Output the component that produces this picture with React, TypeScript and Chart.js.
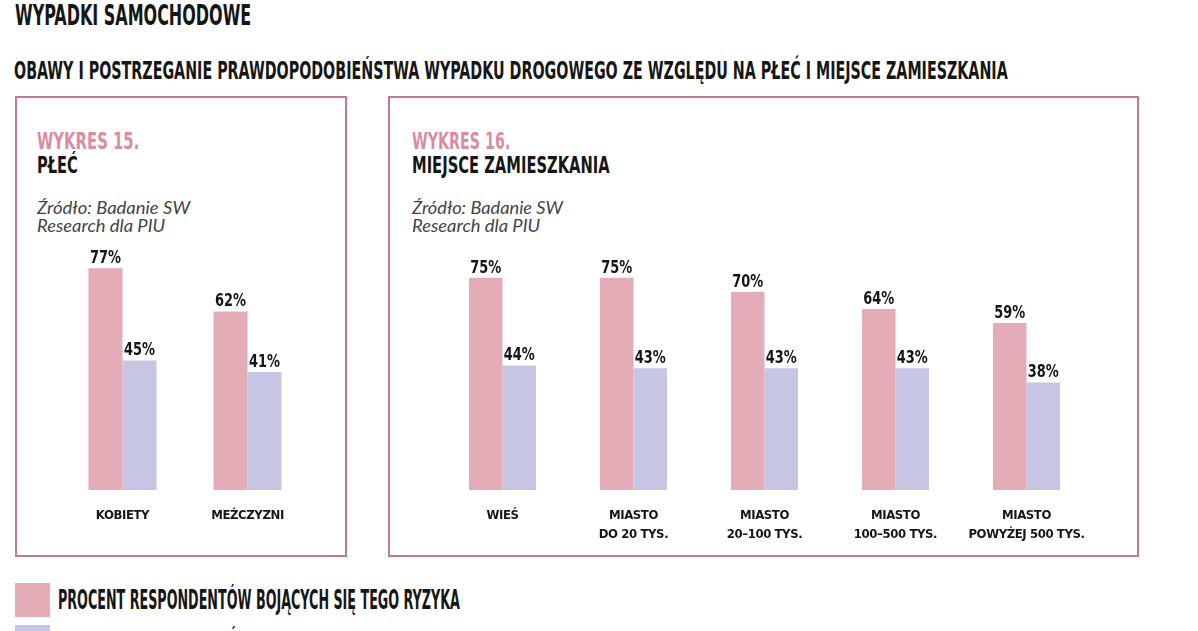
import React, { useEffect, useLayoutEffect, useRef } from 'react';
import { Chart, registerables } from 'chart.js';

Chart.register(...registerables);

const NARROW = '"Liberation Sans Narrow", "DejaVu Sans Condensed", "Liberation Sans", sans-serif';
const SOURCE_FONT = 'Lato, "Open Sans", "DejaVu Sans", sans-serif';

// ---- data ----
const genderCategories = ['KOBIETY', 'MEŻCZYZNI'];
const genderFear = [77, 62];
const genderProbability = [45, 41];

const placeCategories = [
  ['WIEŚ'],
  ['MIASTO', 'DO 20 TYS.'],
  ['MIASTO', '20–100 TYS.'],
  ['MIASTO', '100–500 TYS.'],
  ['MIASTO', 'POWYŻEJ 500 TYS.'],
];
const placeFear = [75, 75, 70, 64, 59];
const placeProbability = [44, 43, 43, 43, 38];

const seriesNames = [
  'PROCENT RESPONDENTÓW BOJĄCYCH SIĘ TEGO RYZYKA',
  'PROCENT RESPONDENTÓW OCENIAJĄCYCH TO RYZYKO JAKO PRAWDOPODOBNE',
];

const FEAR_COLOR = '#e3acb6';
const PROB_COLOR = '#c6c5e3';
const BOX_COLOR = '#c17b90';
const PINK_TEXT = '#d98ea0';
const DARK = '#161616';

type FitProps = {
  text: string;
  left: number;
  capTop: number;
  capHeight: number;
  width: number;
  color?: string;
  weight?: string | number;
  italic?: boolean;
  family?: string;
  capRatio?: number;
  topRatio?: number;
};

function FitText({
  text,
  left,
  capTop,
  capHeight,
  width,
  color = DARK,
  weight = 'bold',
  italic = false,
  family = NARROW,
  capRatio = 0.72,
  topRatio = 0.12,
}: FitProps) {
  const ref = useRef<HTMLSpanElement>(null);
  const fontSize = capHeight / capRatio;
  const top = capTop - topRatio * fontSize;
  useLayoutEffect(() => {
    const fit = () => {
      const el = ref.current;
      if (!el) return;
      const w = el.offsetWidth;
      if (w > 0) el.style.transform = `scaleX(${width / w})`;
    };
    fit();
    if ((document as any).fonts && (document as any).fonts.ready) {
      (document as any).fonts.ready.then(fit);
    }
  }, [text, width]);
  return (
    <span
      ref={ref}
      style={{
        position: 'absolute',
        left,
        top,
        fontSize,
        lineHeight: 1,
        fontFamily: family,
        fontWeight: weight as any,
        fontStyle: italic ? 'italic' : 'normal',
        color,
        whiteSpace: 'nowrap',
        transformOrigin: '0 0',
        display: 'inline-block',
      }}
    >
      {text}
    </span>
  );
}

// narrow the library-drawn tick text a little (condensed look of the original)
const condensedText = {
  id: 'condensedText',
  beforeUpdate(chart: any) {
    (chart.ctx as any).letterSpacing = '-0.4px';
  },
  beforeDraw(chart: any) {
    (chart.ctx as any).letterSpacing = '-0.4px';
  },
};

const valueLabels = {
  id: 'valueLabels',
  afterDatasetsDraw(chart: any) {
    const ctx = chart.ctx as CanvasRenderingContext2D;
    ctx.save();
    (ctx as any).letterSpacing = '0px';
    ctx.font = `bold 18px ${NARROW}`;
    ctx.fillStyle = DARK;
    ctx.textAlign = 'center';
    ctx.textBaseline = 'alphabetic';
    chart.data.datasets.forEach((ds: any, i: number) => {
      chart.getDatasetMeta(i).data.forEach((bar: any, j: number) => {
        ctx.save();
        ctx.translate(bar.x, bar.y - 5);
        ctx.scale(0.8, 1);
        ctx.fillText(`${ds.data[j]}%`, 0, 0);
        ctx.restore();
      });
    });
    ctx.restore();
  },
};

type BarProps = {
  labels: any[];
  fear: number[];
  prob: number[];
  left: number;
  top: number;
  width: number;
  plotHeight: number;
  axisHeight: number;
  groupShare: number;
};

function BarChart({ labels, fear, prob, left, top, width, plotHeight, axisHeight, groupShare }: BarProps) {
  const ref = useRef<HTMLCanvasElement>(null);
  useEffect(() => {
    const chart = new Chart(ref.current as HTMLCanvasElement, {
      type: 'bar',
      data: {
        labels,
        datasets: [
          {
            label: seriesNames[0],
            data: fear,
            backgroundColor: FEAR_COLOR,
            borderWidth: 0,
            categoryPercentage: groupShare,
            barPercentage: 1,
          },
          {
            label: seriesNames[1],
            data: prob,
            backgroundColor: PROB_COLOR,
            borderWidth: 0,
            categoryPercentage: groupShare,
            barPercentage: 1,
          },
        ],
      },
      options: {
        animation: false,
        responsive: false,
        maintainAspectRatio: false,
        layout: { padding: 0 },
        plugins: {
          legend: { display: false },
          tooltip: { enabled: false },
        },
        scales: {
          x: {
            grid: { display: false, drawTicks: false },
            border: { display: false },
            ticks: {
              color: DARK,
              font: { family: NARROW, weight: 'bold', size: 13, lineHeight: 19 / 13 },
              padding: 16,
              maxRotation: 0,
              autoSkip: false,
            },
            afterFit: (scale: any) => {
              scale.height = axisHeight;
              scale.paddingLeft = 0;
              scale.paddingRight = 0;
            },
          },
          y: { display: false, min: 0, max: 100 },
        },
      } as any,
      plugins: [condensedText, valueLabels],
    });
    return () => chart.destroy();
  }, []);
  const h = plotHeight + axisHeight;
  return (
    <canvas
      ref={ref}
      width={width}
      height={h}
      style={{ position: 'absolute', left, top, width, height: h }}
    />
  );
}

function Box({ left, top, width, height }: { left: number; top: number; width: number; height: number }) {
  return (
    <div
      style={{
        position: 'absolute',
        left,
        top,
        width,
        height,
        border: `2px solid ${BOX_COLOR}`,
        boxSizing: 'border-box',
      }}
    />
  );
}

export default function App() {
  return (
    <div
      style={{
        position: 'absolute',
        left: 0,
        top: 0,
        width: 1198,
        height: 631,
        overflow: 'hidden',
        background: '#ffffff',
      }}
    >
      <FitText text="WYPADKI SAMOCHODOWE" left={15} capTop={5} capHeight={20} width={236} />
      <FitText
        text="OBAWY I POSTRZEGANIE PRAWDOPODOBIEŃSTWA WYPADKU DROGOWEGO ZE WZGLĘDU NA PŁEĆ I MIEJSCE ZAMIESZKANIA"
        left={14}
        capTop={61}
        capHeight={18}
        width={994}
      />

      <Box left={15} top={96} width={332} height={461} />
      <Box left={388} top={96} width={751} height={461} />

      <FitText text="WYKRES 15." left={37} capTop={133} capHeight={17} width={102} color={PINK_TEXT} />
      <FitText text="PŁEĆ" left={37} capTop={157} capHeight={16} width={41} />
      <FitText
        text="Źródło: Badanie SW"
        left={37}
        capTop={203}
        capHeight={12}
        width={153}
        color="#444"
        weight={400}
        italic
        family={SOURCE_FONT}
        topRatio={0.17}
      />
      <FitText
        text="Research dla PIU"
        left={37}
        capTop={221}
        capHeight={12}
        width={128}
        color="#444"
        weight={400}
        italic
        family={SOURCE_FONT}
        topRatio={0.17}
      />

      <FitText text="WYKRES 16." left={412} capTop={133} capHeight={17} width={98} color={PINK_TEXT} />
      <FitText text="MIEJSCE ZAMIESZKANIA" left={412} capTop={157} capHeight={16} width={198} />
      <FitText
        text="Źródło: Badanie SW"
        left={412}
        capTop={203}
        capHeight={12}
        width={151}
        color="#444"
        weight={400}
        italic
        family={SOURCE_FONT}
        topRatio={0.17}
      />
      <FitText
        text="Research dla PIU"
        left={412}
        capTop={221}
        capHeight={12}
        width={128}
        color="#444"
        weight={400}
        italic
        family={SOURCE_FONT}
        topRatio={0.17}
      />

      <BarChart
        labels={genderCategories}
        fear={genderFear}
        prob={genderProbability}
        left={60}
        top={202}
        width={250}
        plotHeight={288}
        axisHeight={60}
        groupShare={0.544}
      />
      <BarChart
        labels={placeCategories}
        fear={placeFear}
        prob={placeProbability}
        left={437}
        top={207}
        width={655}
        plotHeight={283}
        axisHeight={60}
        groupShare={0.512}
      />

      <div style={{ position: 'absolute', left: 15, top: 583, width: 35, height: 34, background: FEAR_COLOR }} />
      <FitText text={seriesNames[0]} left={58} capTop={590} capHeight={19} width={402} />
      <div style={{ position: 'absolute', left: 15, top: 625, width: 35, height: 34, background: PROB_COLOR }} />
      <FitText text={seriesNames[1]} left={58} capTop={632} capHeight={19} width={571} />
    </div>
  );
}
